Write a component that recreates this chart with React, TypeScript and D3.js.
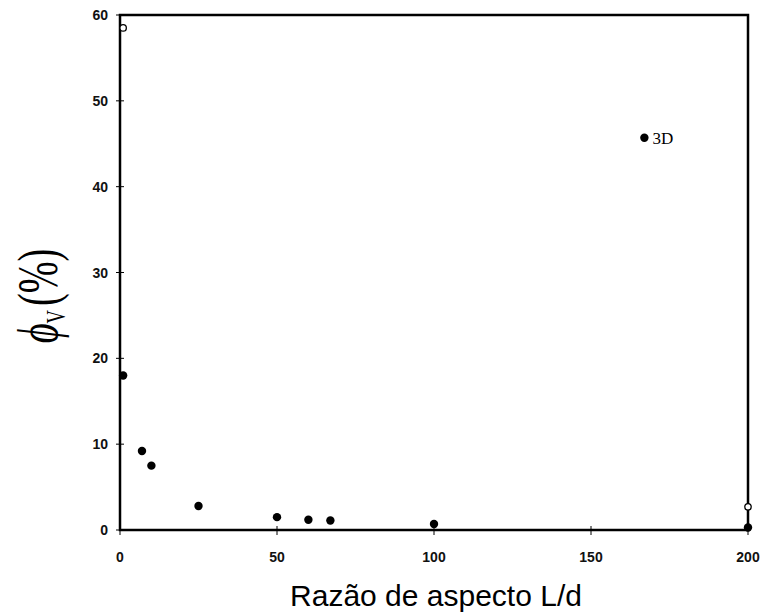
import React from 'react';
import * as d3 from 'd3';

// razão de aspecto L/d vs fração volumétrica crítica
const aspectRatio = [1, 7, 10, 25, 50, 60, 67, 100, 167, 200];
const phiV = [18, 9.2, 7.5, 2.8, 1.5, 1.2, 1.1, 0.7, 45.7, 0.3];
const openX = [1, 200];
const openY = [58.5, 2.7];
const xTicks = [0, 50, 100, 150, 200];
const yTicks = [0, 10, 20, 30, 40, 50, 60];
const annotation = { x: 167, y: 45.7, label: '3D' };

const W = 762;
const H = 612;
const margin = { left: 120, right: 14, top: 15, bottom: 82 };

const App: React.FC = () => {
  const x = d3.scaleLinear().domain([0, 200]).range([margin.left, W - margin.right]);
  const y = d3.scaleLinear().domain([0, 60]).range([H - margin.bottom, margin.top]);

  const x0 = x(0);
  const x1 = x(200);
  const y0 = y(0);
  const y1 = y(60);
  const tickFont = 'Arial, "Liberation Sans", sans-serif';

  return (
    <svg
      width={W}
      height={H}
      style={{ position: 'absolute', left: 0, top: 0, background: '#fff' }}
    >
      {/* moldura */}
      <rect x={x0} y={y1} width={x1 - x0} height={y0 - y1} fill="none" stroke="#000" strokeWidth={2.5} />

      {/* ticks eixo y */}
      {yTicks.map((t) => (
        <g key={'y' + t}>
          <line x1={x0 - 4} x2={x0 + 4} y1={y(t)} y2={y(t)} stroke="#000" strokeWidth={1} />
          <text
            x={x0 - 12}
            y={y(t)}
            dy="0.36em"
            textAnchor="end"
            fontFamily={tickFont}
            fontWeight="bold"
            fontSize={14}
            fill="#111"
          >
            {t}
          </text>
        </g>
      ))}

      {/* ticks eixo x */}
      {xTicks.map((t) => (
        <g key={'x' + t}>
          <line x1={x(t)} x2={x(t)} y1={y0 - 4} y2={y0 + 5} stroke="#000" strokeWidth={1} />
          <text
            x={x(t)}
            y={y0 + 27}
            dy="0.36em"
            textAnchor="middle"
            fontFamily={tickFont}
            fontWeight="bold"
            fontSize={14}
            fill="#111"
          >
            {t}
          </text>
        </g>
      ))}

      {/* pontos cheios */}
      {aspectRatio.map((d, i) => (
        <circle key={'p' + i} cx={x(d)} cy={y(phiV[i])} r={4.2} fill="#000" />
      ))}

      {/* pontos abertos */}
      {openX.map((d, i) => (
        <circle
          key={'o' + i}
          cx={x(d)}
          cy={y(openY[i])}
          r={3.2}
          fill="#fff"
          stroke="#000"
          strokeWidth={1.3}
        />
      ))}

      <text
        x={x(annotation.x) + 8}
        y={y(annotation.y)}
        dy="0.35em"
        fontFamily='"Liberation Serif", "Times New Roman", serif'
        fontSize={17}
        fill="#000"
      >
        {annotation.label}
      </text>

      {/* título eixo x */}
      <text
        x={436}
        y={606}
        textAnchor="middle"
        fontFamily={tickFont}
        fontSize={30}
        fill="#000"
      >
        Razão de aspecto L/d
      </text>

      {/* título eixo y */}
      <text
        transform="translate(57,296) rotate(-90) scale(0.66,1)"
        textAnchor="middle"
        fontFamily='"Liberation Serif", "Times New Roman", serif'
        fontSize={58}
        fill="#000"
      >
        <tspan fontStyle="italic">ϕ</tspan>
        <tspan fontSize={28} dy={8}>V</tspan>
        <tspan dy={-8} dx={6}>(%)</tspan>
      </text>
    </svg>
  );
};

export default App;
